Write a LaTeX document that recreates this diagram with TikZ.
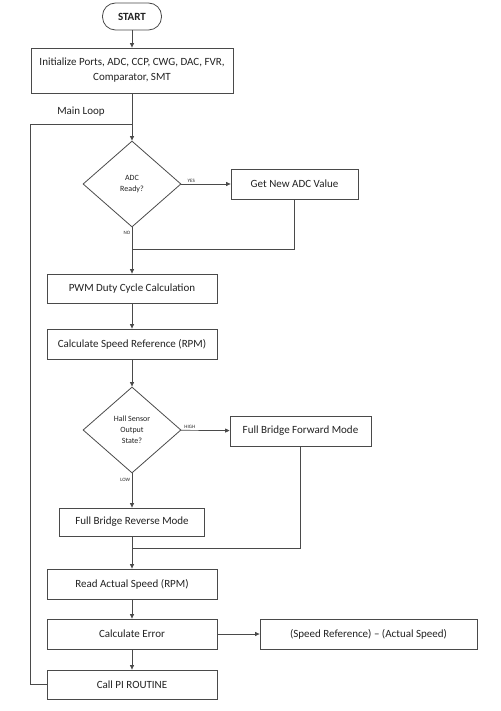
\documentclass[tikz,border=0pt]{standalone}
\usepackage{fontspec}
\setmainfont{Carlito}
\usetikzlibrary{arrows.meta,shapes.geometric,calc}
\definecolor{lnc}{HTML}{4A4A4A}
\definecolor{txc}{HTML}{222222}
\begin{document}
\begin{tikzpicture}[x=1pt,y=-1pt,
  every node/.style={text=txc},
  box/.style={draw=lnc,line width=0.8pt,rectangle,minimum height=30pt,inner sep=2pt,font=\fontsize{11}{13}\selectfont,align=center},
  dec/.style={draw=lnc,line width=0.8pt,diamond,inner sep=0pt,minimum width=98pt,minimum height=86pt,font=\fontsize{8}{11}\selectfont,align=center},
  term/.style={draw=lnc,line width=0.8pt,rectangle,rounded corners=13pt,minimum width=59pt,minimum height=27pt,font=\bfseries\fontsize{11}{12}\selectfont},
  conn/.style={draw=lnc,line width=0.7pt},
  arr/.style={conn,-{Triangle[length=4.5pt,width=4pt]}},
  lbl/.style={font=\fontsize{5}{6}\selectfont,inner sep=1.5pt}]
\useasboundingbox (0,0) rectangle (500,711);
\fill[white] (0,0) rectangle (500,711);
\node[term] (start) at (132,16.5) {START};
\node[box,minimum width=202pt,minimum height=45pt] (init) at (132,70.5) {Initialize Ports, ADC, CCP, CWG, DAC, FVR,\\[2pt]Comparator, SMT};
\node[font=\fontsize{11}{12}\selectfont] (mainloop) at (81,112) {Main Loop};
\node[dec] (adc) at (132,184) {ADC\\Ready?};
\node[box,minimum width=127pt] (getadc) at (294.5,184) {Get New ADC Value};
\node[box,minimum width=170pt,minimum height=29pt] (pwm) at (132,288.5) {PWM Duty Cycle Calculation};
\node[box,minimum width=170pt] (spref) at (132,344) {Calculate Speed Reference (RPM)};
\node[dec] (hall) at (132,430) {Hall Sensor\\Output\\State?};
\node[box,minimum width=141pt] (fwd) at (300.5,431) {Full Bridge Forward Mode};
\node[box,minimum width=145pt,minimum height=28pt] (rev) at (132,522) {Full Bridge Reverse Mode};
\node[box,minimum width=170pt] (read) at (132,584) {Read Actual Speed (RPM)};
\node[box,minimum width=170pt] (err) at (132,634) {Calculate Error};
\node[box,minimum width=217pt] (formula) at (368.5,634) {(Speed Reference) – (Actual Speed)};
\node[box,minimum width=170pt,minimum height=29pt] (pi) at (132,684.5) {Call PI ROUTINE};
\coordinate (j0) at (132,124);
\coordinate (lt) at (30,124);
\coordinate (lb) at (30,684.5);
\coordinate (j1) at (132,249);
\coordinate (j2) at (132,548);
\draw[arr] (start) -- (init);
\draw[arr] (init) -- (adc);
\draw[arr] (adc) -- node[lbl,above,pos=0.2] {YES} (getadc);
\draw[arr] (adc) -- node[lbl,left,pos=0.12] {NO} (pwm);
\draw[conn] (getadc.south) |- (j1);
\draw[arr] (pwm) -- (spref);
\draw[arr] (spref) -- (hall);
\draw[arr] (hall) -- node[lbl,above,pos=0.18] {HIGH} (fwd);
\draw[arr] (hall) -- node[lbl,left,pos=0.2] {LOW} (rev);
\draw[conn] (fwd.south) |- (j2);
\draw[arr] (rev) -- (read);
\draw[arr] (read) -- (err);
\draw[arr] (err) -- (pi);
\draw[arr] (err) -- (formula);
\draw[conn] (pi.west) -- (lb) -- (lt) -- (j0);
\end{tikzpicture}
\end{document}
